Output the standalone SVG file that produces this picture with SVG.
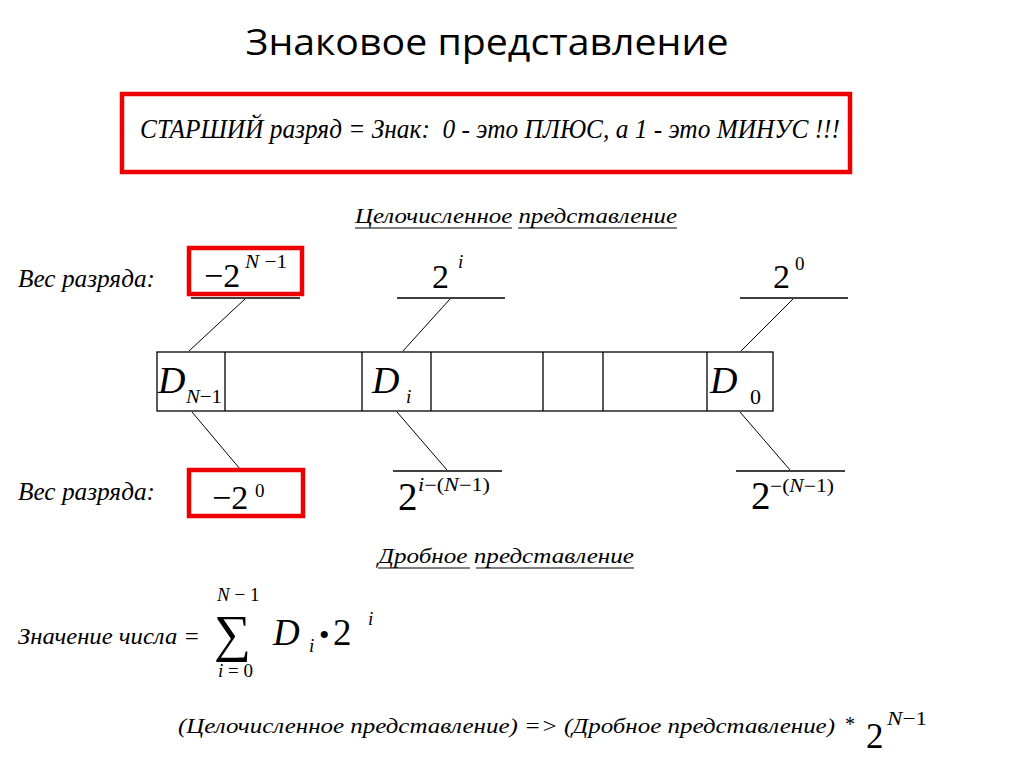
<svg xmlns="http://www.w3.org/2000/svg" width="1024" height="767" viewBox="0 0 1024 767">
<style>
.t{font-family:'Liberation Serif','Times New Roman',serif;font-style:italic;fill:#000}
.m{font-family:'Liberation Serif','Times New Roman',serif;fill:#000}
.red{fill:none;stroke:#ee0000;stroke-width:4.5}
.ln{stroke:#000;stroke-width:1.3;fill:none}
.thin{stroke:#000;stroke-width:1;fill:none}
</style>
<rect width="1024" height="767" fill="#fff"/>
<text x="487" y="55" text-anchor="middle" font-family="Open Sans, Noto Sans, sans-serif" font-size="36" textLength="483" lengthAdjust="spacingAndGlyphs">Знаковое представление</text>

<g id="sign-box">
<rect class="red" x="122" y="94" width="728" height="78"/>
<text class="t" x="140" y="138" font-size="28" textLength="700" lengthAdjust="spacingAndGlyphs">СТАРШИЙ разряд = Знак:&#160; 0 - это ПЛЮС, а 1 - это МИНУС !!!</text>
</g>

<g id="int-heading">
<text class="t" x="355" y="223" font-size="20" textLength="322" lengthAdjust="spacingAndGlyphs">Целочисленное представление</text>
<line class="thin" x1="355" y1="228" x2="512" y2="228"/>
<line class="thin" x1="518" y1="228" x2="677" y2="228"/>
</g>

<g id="weight-top-label"><text class="t" x="18" y="287" font-size="25" textLength="137" lengthAdjust="spacingAndGlyphs">Вес разряда:</text></g>

<g id="w-top-msb">
<rect class="red" x="189" y="248" width="113" height="46"/>
<text class="m" x="204" y="287" font-size="34">−2</text>
<text class="m" x="245" y="268" font-size="19" textLength="42" lengthAdjust="spacingAndGlyphs"><tspan font-style="italic">N</tspan> −1</text>
<line class="ln" x1="191" y1="298" x2="300" y2="298"/>
</g>
<g id="w-top-i">
<text class="m" x="432" y="288" font-size="34">2</text>
<text class="t" x="458" y="268" font-size="19">i</text>
<line class="ln" x1="397" y1="298" x2="505" y2="298"/>
</g>
<g id="w-top-0">
<text class="m" x="773" y="288" font-size="34">2</text>
<text class="m" x="795" y="270" font-size="19">0</text>
<line class="ln" x1="740" y1="298" x2="848" y2="298"/>
</g>

<g id="register">
<rect class="ln" x="157" y="352" width="616" height="59"/>
<line class="ln" x1="225" y1="352" x2="225" y2="411"/>
<line class="ln" x1="362" y1="352" x2="362" y2="411"/>
<line class="ln" x1="431" y1="352" x2="431" y2="411"/>
<line class="ln" x1="543" y1="352" x2="543" y2="411"/>
<line class="ln" x1="603" y1="352" x2="603" y2="411"/>
<line class="ln" x1="707" y1="352" x2="707" y2="411"/>
<text class="t" x="158" y="393" font-size="38">D</text>
<text class="m" x="186" y="403" font-size="19" textLength="36" lengthAdjust="spacingAndGlyphs"><tspan font-style="italic">N</tspan>−1</text>
<text class="t" x="372" y="393" font-size="38">D</text>
<text class="t" x="406" y="403" font-size="19">i</text>
<text class="t" x="710" y="393" font-size="38">D</text>
<text class="m" x="750" y="404" font-size="22">0</text>
</g>

<g id="connectors">
<line class="thin" x1="245" y1="299" x2="189" y2="351"/>
<line class="thin" x1="450" y1="299" x2="403" y2="351"/>
<line class="thin" x1="793" y1="299" x2="741" y2="351"/>
<line class="thin" x1="192" y1="412" x2="240" y2="469"/>
<line class="thin" x1="397" y1="412" x2="447" y2="470"/>
<line class="thin" x1="740" y1="412" x2="790" y2="470"/>
</g>

<g id="weight-bottom-label"><text class="t" x="18" y="500" font-size="25" textLength="137" lengthAdjust="spacingAndGlyphs">Вес разряда:</text></g>

<g id="w-bot-msb">
<rect class="red" x="189" y="470" width="114" height="46"/>
<text class="m" x="212" y="509" font-size="34">−2</text>
<text class="m" x="255" y="497" font-size="19">0</text>
</g>
<g id="w-bot-i">
<line class="ln" x1="393" y1="471" x2="502" y2="471"/>
<text class="m" x="398" y="510" font-size="39">2</text>
<text class="m" x="418" y="491" font-size="18" textLength="72" lengthAdjust="spacingAndGlyphs"><tspan font-style="italic">i</tspan>−(<tspan font-style="italic">N</tspan>−1)</text>
</g>
<g id="w-bot-0">
<line class="ln" x1="736" y1="471" x2="845" y2="471"/>
<text class="m" x="751" y="509" font-size="39">2</text>
<text class="m" x="770" y="492" font-size="18" textLength="64" lengthAdjust="spacingAndGlyphs">−(<tspan font-style="italic">N</tspan>−1)</text>
</g>

<g id="frac-heading">
<text class="t" x="378" y="563" font-size="20" textLength="256" lengthAdjust="spacingAndGlyphs">Дробное представление</text>
<line class="thin" x1="378" y1="568" x2="470" y2="568"/>
<line class="thin" x1="476" y1="568" x2="634" y2="568"/>
</g>

<g id="value-formula">
<text class="t" x="18" y="644" font-size="24" textLength="182" lengthAdjust="spacingAndGlyphs">Значение числа =</text>
<text class="m" x="214" y="651" font-size="52">∑</text>
<text class="m" x="217" y="601" font-size="19"><tspan font-style="italic">N</tspan> − 1</text>
<text class="m" x="218" y="677" font-size="19"><tspan font-style="italic">i</tspan> = 0</text>
<text class="t" x="273" y="645" font-size="37">D</text>
<text class="t" x="309" y="652" font-size="19">i</text>
<text class="m" x="319" y="645" font-size="30">•</text>
<text class="m" x="333" y="645" font-size="37">2</text>
<text class="t" x="368" y="625" font-size="19">i</text>
</g>

<g id="conversion">
<text class="t" x="178" y="733" font-size="22" textLength="657" lengthAdjust="spacingAndGlyphs">(Целочисленное представление) =&gt; (Дробное представление)</text>
<text class="m" x="845" y="731" font-size="20">*</text>
<text class="m" x="866" y="748" font-size="35">2</text>
<text class="m" x="887" y="725" font-size="19" textLength="40" lengthAdjust="spacingAndGlyphs"><tspan font-style="italic">N</tspan>−1</text>
</g>
</svg>
